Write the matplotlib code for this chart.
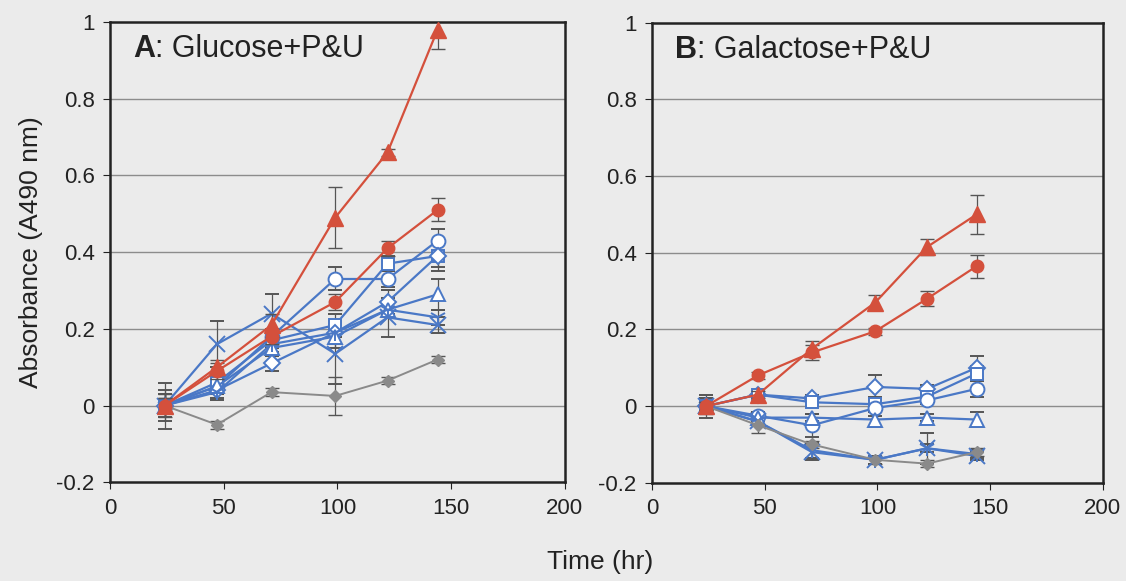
import matplotlib
matplotlib.use("Agg")
import matplotlib.pyplot as plt
import numpy as np

# sampling times (hr)
t = [24, 47, 71, 99, 122, 144]

# Panel A: Glucose+P&U
a_red_tri = [0, 0.10, 0.21, 0.49, 0.66, 0.98]
a_red_tri_err = [0.02, 0.02, 0.03, 0.08, 0.01, 0.05]
a_red_circ = [0, 0.09, 0.18, 0.27, 0.41, 0.51]
a_red_circ_err = [0.02, 0.02, 0.02, 0.02, 0.02, 0.03]
a_circ = [0, 0.05, 0.18, 0.33, 0.33, 0.43]
a_circ_err = [0.04, 0.02, 0.02, 0.03, 0.02, 0.03]
a_sq = [0, 0.06, 0.17, 0.21, 0.37, 0.39]
a_sq_err = [0.03, 0.02, 0.02, 0.03, 0.02, 0.03]
a_dia = [0, 0.04, 0.11, 0.19, 0.27, 0.39]
a_dia_err = [0.03, 0.02, 0.02, 0.03, 0.03, 0.04]
a_tri = [0, 0.05, 0.15, 0.18, 0.25, 0.29]
a_tri_err = [0.03, 0.02, 0.02, 0.03, 0.02, 0.04]
a_x = [0, 0.16, 0.24, 0.135, 0.23, 0.21]
a_x_err = [0.06, 0.06, 0.05, 0.08, 0.05, 0.02]
a_ast = [0, 0.035, 0.16, 0.19, 0.25, 0.23]
a_ast_err = [0.03, 0.02, 0.02, 0.03, 0.02, 0.02]
a_gray = [0, -0.05, 0.035, 0.025, 0.065, 0.12]
a_gray_err = [0.03, 0.01, 0.01, 0.05, 0.01, 0.01]

# Panel B: Galactose+P&U
b_red_tri = [0, 0.03, 0.15, 0.27, 0.415, 0.50]
b_red_tri_err = [0.01, 0.01, 0.02, 0.02, 0.02, 0.05]
b_red_circ = [0, 0.08, 0.14, 0.195, 0.28, 0.365]
b_red_circ_err = [0.01, 0.01, 0.02, 0.01, 0.02, 0.03]
b_dia = [0, 0.03, 0.02, 0.05, 0.045, 0.10]
b_dia_err = [0.03, 0.01, 0.01, 0.03, 0.01, 0.03]
b_sq = [0, 0.03, 0.01, 0.005, 0.025, 0.085]
b_sq_err = [0.02, 0.01, 0.01, 0.02, 0.01, 0.02]
b_circ = [0, -0.025, -0.05, -0.005, 0.015, 0.045]
b_circ_err = [0.02, 0.01, 0.03, 0.02, 0.01, 0.02]
b_tri = [0, -0.03, -0.03, -0.035, -0.03, -0.035]
b_tri_err = [0.02, 0.01, 0.01, 0.02, 0.01, 0.02]
b_x = [0, -0.04, -0.12, -0.14, -0.11, -0.13]
b_x_err = [0.02, 0.01, 0.02, 0.01, 0.01, 0.01]
b_ast = [0, -0.04, -0.115, -0.14, -0.11, -0.125]
b_ast_err = [0.02, 0.01, 0.02, 0.01, 0.04, 0.01]
b_gray = [0, -0.05, -0.10, -0.14, -0.15, -0.12]
b_gray_err = [0.02, 0.02, 0.01, 0.01, 0.01, 0.01]

RED = "#d4503c"
BLUE = "#4a78c6"
GRAY = "#8a8a8a"
BG = "#ebebeb"
INK = "#222222"

plt.rcParams['font.family'] = ['Liberation Sans', 'DejaVu Sans']

fig = plt.figure(figsize=(11.26, 5.81), dpi=100, facecolor=BG)
axA = fig.add_axes([0.0977, 0.170, 0.404, 0.792])
axB = fig.add_axes([0.579, 0.169, 0.4005, 0.792])


def draw(ax, blue_series, red_series, gray):
    for y, e, m, ms in blue_series:
        ax.errorbar(t, y, yerr=e, color=BLUE, marker=m, ms=ms, mfc="white", mec=BLUE,
                    mew=1.4, lw=1.6, ecolor="#555555", elinewidth=0.9, capsize=5, zorder=3)
    y, e = gray
    ax.errorbar(t, y, yerr=e, color=GRAY, marker="D", ms=6, mfc=GRAY, mec=GRAY,
                lw=1.4, ecolor="#555555", elinewidth=0.9, capsize=5, zorder=3)
    for y, e, m, ms in red_series:
        ax.errorbar(t, y, yerr=e, color=RED, marker=m, ms=ms, mfc=RED, mec=RED,
                    lw=1.6, ecolor="#555555", elinewidth=0.9, capsize=5, zorder=4)
    ax.set_xlim(0, 200)
    ax.set_ylim(-0.2, 1)
    ax.set_xticks([0, 50, 100, 150, 200])
    ax.set_yticks([-0.2, 0, 0.2, 0.4, 0.6, 0.8, 1])
    ax.set_yticklabels(["-0.2", "0", "0.2", "0.4", "0.6", "0.8", "1"])
    ax.set_facecolor(BG)
    for yg in [0, 0.2, 0.4, 0.6, 0.8]:
        ax.axhline(yg, color="#8c8c8c", lw=1.0, zorder=1)
    for s in ax.spines.values():
        s.set_linewidth(1.8)
        s.set_color(INK)
    ax.tick_params(direction="out", length=5, labelsize=16, colors=INK, pad=6)


draw(axA,
     [(a_circ, a_circ_err, "o", 10), (a_sq, a_sq_err, "s", 9), (a_dia, a_dia_err, "D", 8),
      (a_tri, a_tri_err, "^", 10), (a_x, a_x_err, "x", 12), (a_ast, a_ast_err, "1", 12)],
     [(a_red_circ, a_red_circ_err, "o", 9), (a_red_tri, a_red_tri_err, "^", 11)],
     (a_gray, a_gray_err))
draw(axB,
     [(b_dia, b_dia_err, "D", 8), (b_sq, b_sq_err, "s", 9), (b_circ, b_circ_err, "o", 10),
      (b_tri, b_tri_err, "^", 10), (b_x, b_x_err, "x", 12), (b_ast, b_ast_err, "1", 12)],
     [(b_red_circ, b_red_circ_err, "o", 9), (b_red_tri, b_red_tri_err, "^", 11)],
     (b_gray, b_gray_err))

# panel titles: bold letter + normal text
axA.text(10, 0.93, "A", fontsize=22, fontweight="bold", color=INK, va="center")
axA.text(19.8, 0.93, ": Glucose+P&U", fontsize=22, color=INK, va="center")
axB.text(10, 0.93, "B", fontsize=22, fontweight="bold", color=INK, va="center")
axB.text(19.8, 0.93, ": Galactose+P&U", fontsize=22, color=INK, va="center")

axA.set_ylabel("Absorbance (A490 nm)", fontsize=19, color=INK, labelpad=10)
fig.text(0.533, 0.02, "Time (hr)", fontsize=19, color=INK, ha="center")

fig.savefig("out.png", dpi=100, facecolor=BG)
